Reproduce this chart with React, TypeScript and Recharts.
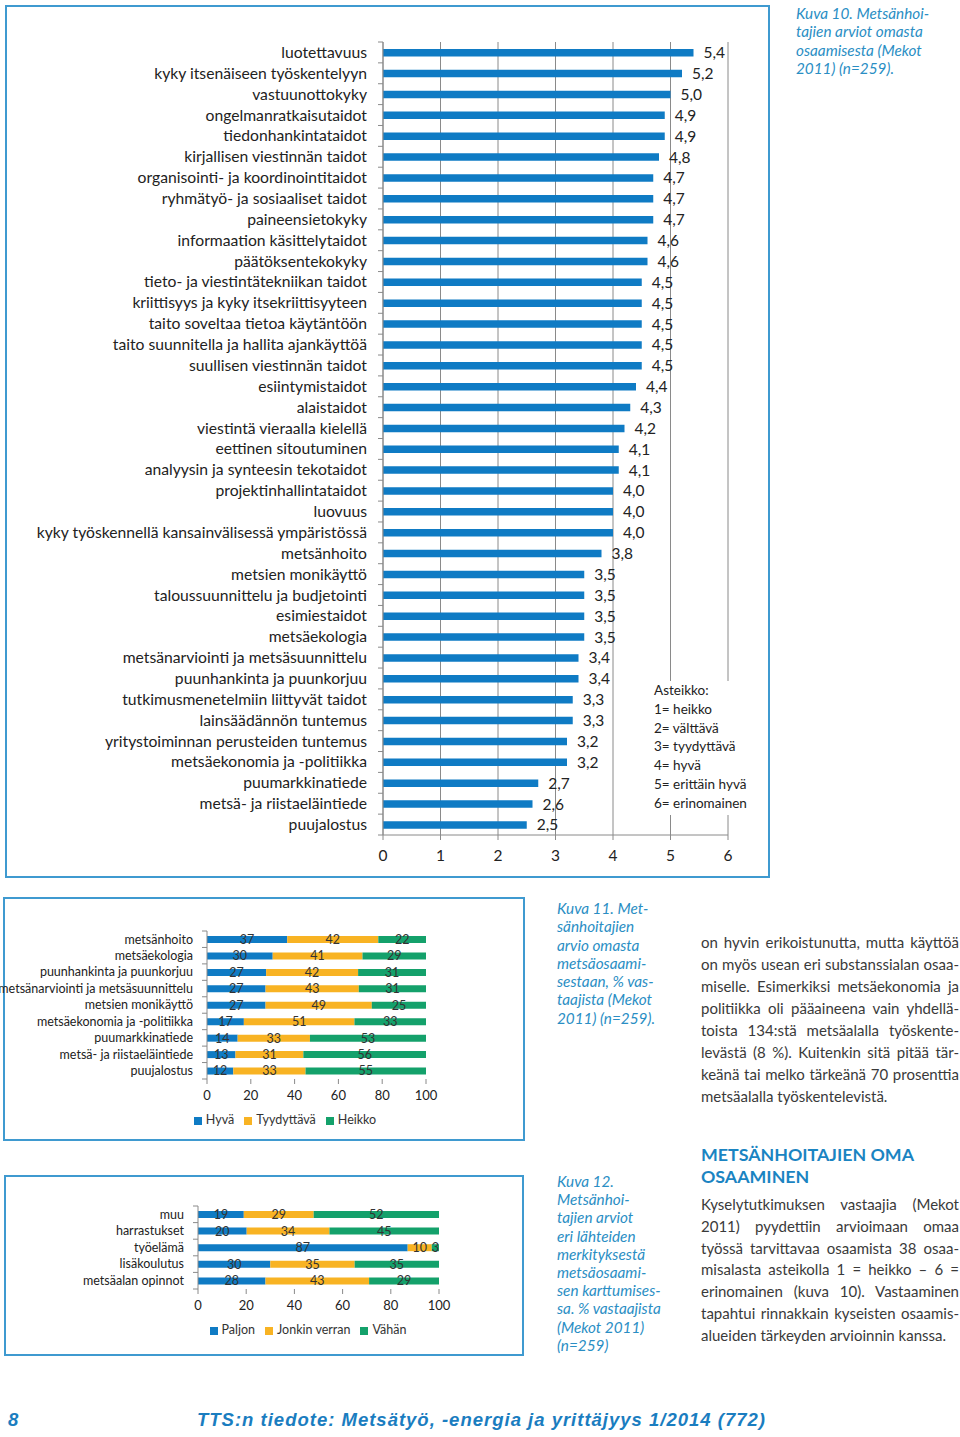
import React from 'react';
import {
  BarChart,
  Bar,
  XAxis,
  YAxis,
  CartesianGrid,
  LabelList,
  Legend,
} from 'recharts';

// Kuva 10 – osaamisalueet ja keskiarvot (asteikko 1–6)
const skills = [
  'luotettavuus',
  'kyky itsenäiseen työskentelyyn',
  'vastuunottokyky',
  'ongelmanratkaisutaidot',
  'tiedonhankintataidot',
  'kirjallisen viestinnän taidot',
  'organisointi- ja koordinointitaidot',
  'ryhmätyö- ja sosiaaliset taidot',
  'paineensietokyky',
  'informaation käsittelytaidot',
  'päätöksentekokyky',
  'tieto- ja viestintätekniikan taidot',
  'kriittisyys ja kyky itsekriittisyyteen',
  'taito soveltaa tietoa käytäntöön',
  'taito suunnitella ja hallita ajankäyttöä',
  'suullisen viestinnän taidot',
  'esiintymistaidot',
  'alaistaidot',
  'viestintä vieraalla kielellä',
  'eettinen sitoutuminen',
  'analyysin ja synteesin tekotaidot',
  'projektinhallintataidot',
  'luovuus',
  'kyky työskennellä kansainvälisessä ympäristössä',
  'metsänhoito',
  'metsien monikäyttö',
  'taloussuunnittelu ja budjetointi',
  'esimiestaidot',
  'metsäekologia',
  'metsänarviointi ja metsäsuunnittelu',
  'puunhankinta ja puunkorjuu',
  'tutkimusmenetelmiin liittyvät taidot',
  'lainsäädännön tuntemus',
  'yritystoiminnan perusteiden tuntemus',
  'metsäekonomia ja -politiikka',
  'puumarkkinatiede',
  'metsä- ja riistaeläintiede',
  'puujalostus',
];
const scores = [
  5.4, 5.2, 5.0, 4.9, 4.9, 4.8, 4.7, 4.7, 4.7, 4.6, 4.6, 4.5, 4.5, 4.5, 4.5,
  4.5, 4.4, 4.3, 4.2, 4.1, 4.1, 4.0, 4.0, 4.0, 3.8, 3.5, 3.5, 3.5, 3.5, 3.4,
  3.4, 3.3, 3.3, 3.2, 3.2, 2.7, 2.6, 2.5,
];
const scaleTicks = [0, 1, 2, 3, 4, 5, 6];
const scaleNotes = [
  'Asteikko:',
  '1= heikko',
  '2= välttävä',
  '3= tyydyttävä',
  '4= hyvä',
  '5= erittäin hyvä',
  '6= erinomainen',
];

// Kuva 11 – metsäosaaminen, % vastaajista
const forestTopics = [
  'metsänhoito',
  'metsäekologia',
  'puunhankinta ja puunkorjuu',
  'metsänarviointi ja metsäsuunnittelu',
  'metsien monikäyttö',
  'metsäekonomia ja -politiikka',
  'puumarkkinatiede',
  'metsä- ja riistaeläintiede',
  'puujalostus',
];
const hyva = [37, 30, 27, 27, 27, 17, 14, 13, 12];
const tyydyttava = [42, 41, 42, 43, 49, 51, 33, 31, 33];
const heikko = [22, 29, 31, 31, 25, 33, 53, 56, 55];
const forestSeries = ['Hyvä', 'Tyydyttävä', 'Heikko'];

// Kuva 12 – lähteiden merkitys, % vastaajista
const sources = ['muu', 'harrastukset', 'työelämä', 'lisäkoulutus', 'metsäalan opinnot'];
const paljon = [19, 20, 87, 30, 28];
const jonkin = [29, 34, 10, 35, 43];
const vahan = [52, 45, 3, 35, 29];
const sourceSeries = ['Paljon', 'Jonkin verran', 'Vähän'];
const pctTicks = [0, 0.2, 0.4, 0.6, 0.8, 1];

const skillData = skills.map((name, i) => ({ name, value: scores[i] }));
const forestData = forestTopics.map((name, i) => ({
  name,
  hyva: hyva[i],
  tyyd: tyydyttava[i],
  heikko: heikko[i],
}));
const sourceData = sources.map((name, i) => ({
  name,
  paljon: paljon[i],
  jonkin: jonkin[i],
  vahan: vahan[i],
}));

const FONT = 'Lato, "Open Sans", sans-serif';
const BLUE = '#0f7bc4';
const ORANGE = '#f8b323';
const GREEN = '#14a16b';
const AXIS = '#8a8a8a';
const CAPTION = '#2a8ec4';
const BODY = '#3a3a3a';

// category tick with Excel style marks between the rows
const BandTick = (props: any) => {
  const { x, y, payload, index, size, gap, half, count } = props;
  const ax = x + gap;
  return (
    <g>
      <line x1={ax - 5} x2={ax} y1={y - half} y2={y - half} stroke={AXIS} />
      {index === count - 1 && (
        <line x1={ax - 5} x2={ax} y1={y + half} y2={y + half} stroke={AXIS} />
      )}
      <text
        x={x}
        y={y}
        dy="0.35em"
        textAnchor="end"
        fontSize={size}
        fontFamily={FONT}
        fill="#222"
      >
        {payload.value}
      </text>
    </g>
  );
};

const legendText = (v: string) => <span style={{ color: '#333' }}>{v}</span>;

const boxStyle = (left: number, top: number, width: number, height: number) => ({
  position: 'absolute' as const,
  left,
  top,
  width,
  height,
  border: '2px solid #3f9ad0',
  boxSizing: 'border-box' as const,
});

const Lines = ({ lines, style, justify }: any) => (
  <div style={style}>
    {lines.map((l: string, i: number) => (
      <div
        key={i}
        style={
          justify && i < lines.length - 1
            ? { textAlign: 'justify', textAlignLast: 'justify' }
            : undefined
        }
      >
        {l}
      </div>
    ))}
  </div>
);

const footer = {
  position: 'absolute' as const,
  top: 1409,
  fontFamily: '"Liberation Sans", Arial, sans-serif',
  fontWeight: 700,
  fontStyle: 'italic' as const,
  fontSize: 18.5,
  letterSpacing: 1,
  lineHeight: '22px',
  color: '#1a7dc0',
  whiteSpace: 'nowrap' as const,
};

const App = () => {
  const mainHalf = (835 - 42) / skills.length / 2;
  const forestHalf = (1079 - 931) / forestTopics.length / 2;
  const sourceHalf = (1289 - 1206) / sources.length / 2;

  return (
    <div
      style={{
        position: 'absolute',
        left: 0,
        top: 0,
        width: 960,
        height: 1437,
        overflow: 'hidden',
        background: '#fff',
        fontFamily: FONT,
      }}
    >
      {/* Kuva 10 */}
      <div style={boxStyle(5, 5, 765, 873)} />
      <div style={{ position: 'absolute', left: 0, top: 0 }}>
        <BarChart
          width={770}
          height={880}
          data={skillData}
          layout="vertical"
          margin={{ top: 42, right: 42, left: 0, bottom: 15 }}
        >
          <CartesianGrid horizontal={false} stroke={AXIS} />
          <XAxis
            type="number"
            domain={[0, 6]}
            ticks={scaleTicks}
            height={30}
            stroke={AXIS}
            tickSize={5}
            tickMargin={10}
            tick={{ fontSize: 15.5, fill: '#222', fontFamily: FONT }}
          />
          <YAxis
            type="category"
            dataKey="name"
            width={383}
            stroke={AXIS}
            tickLine={false}
            tickSize={0}
            tickMargin={16}
            interval={0}
            tick={(p: any) => (
              <BandTick {...p} size={15.7} gap={16} half={mainHalf} count={skills.length} />
            )}
          />
          <Bar dataKey="value" fill={BLUE} barSize={7.5} isAnimationActive={false}>
            <LabelList
              dataKey="value"
              position="right"
              offset={10}
              fill="#222"
              fontSize={15.5}
              fontFamily={FONT}
              formatter={(v: any) => Number(v).toFixed(1).replace('.', ',')}
            />
          </Bar>
        </BarChart>
      </div>
      <Lines
        lines={scaleNotes}
        style={{
          position: 'absolute',
          left: 648,
          top: 681,
          width: 112,
          padding: '0 0 0 6px',
          background: '#fff',
          fontSize: 13.5,
          lineHeight: '18.8px',
          color: '#222',
          height: 134,
          boxSizing: 'border-box',
        }}
      />
      <Lines
        lines={[
          'Kuva 10. Metsänhoi-',
          'tajien arviot omasta',
          'osaamisesta (Mekot',
          '2011) (n=259).',
        ]}
        style={{
          position: 'absolute',
          left: 796,
          top: 4,
          fontSize: 15.3,
          lineHeight: '18.4px',
          fontStyle: 'italic',
          color: CAPTION,
        }}
      />

      {/* Kuva 11 */}
      <div style={boxStyle(3, 897, 522, 244)} />
      <div style={{ position: 'absolute', left: 0, top: 890 }}>
        <BarChart
          width={524}
          height={250}
          data={forestData}
          layout="vertical"
          stackOffset="expand"
          margin={{ top: 41, right: 98, left: 0, bottom: 0 }}
        >
          <XAxis
            type="number"
            domain={[0, 1]}
            ticks={pctTicks}
            height={61}
            axisLine={false}
            stroke={AXIS}
            tickSize={5}
            tickMargin={7}
            tickFormatter={(v: number) => String(Math.round(v * 100))}
            tick={{ fontSize: 13, fill: '#222', fontFamily: FONT }}
          />
          <YAxis
            type="category"
            dataKey="name"
            width={207}
            stroke={AXIS}
            tickLine={false}
            tickSize={0}
            tickMargin={14}
            interval={0}
            tick={(p: any) => (
              <BandTick {...p} size={12.5} gap={14} half={forestHalf} count={forestTopics.length} />
            )}
          />
          <Legend
            layout="horizontal"
            verticalAlign="middle"
            align="center"
            iconType="square"
            iconSize={8}
            formatter={legendText}
            itemSorter={(item: any) => forestSeries.indexOf(item.value)}
            wrapperStyle={{ top: 222, left: 190, width: 200, fontSize: 12.5, fontFamily: FONT }}
          />
          <Bar dataKey="hyva" name={forestSeries[0]} stackId="a" fill={BLUE} barSize={7} isAnimationActive={false}>
            <LabelList dataKey="hyva" position="center" fill="#333" fontSize={12.5} fontFamily={FONT} />
          </Bar>
          <Bar dataKey="tyyd" name={forestSeries[1]} stackId="a" fill={ORANGE} barSize={7} isAnimationActive={false}>
            <LabelList dataKey="tyyd" position="center" fill="#333" fontSize={12.5} fontFamily={FONT} />
          </Bar>
          <Bar dataKey="heikko" name={forestSeries[2]} stackId="a" fill={GREEN} barSize={7} isAnimationActive={false}>
            <LabelList dataKey="heikko" position="center" fill="#333" fontSize={12.5} fontFamily={FONT} />
          </Bar>
        </BarChart>
      </div>
      <Lines
        lines={[
          'Kuva 11. Met-',
          'sänhoitajien',
          'arvio omasta',
          'metsäosaami-',
          'sestaan, % vas-',
          'taajista (Mekot',
          '2011) (n=259).',
        ]}
        style={{
          position: 'absolute',
          left: 557,
          top: 899,
          fontSize: 15.3,
          lineHeight: '18.3px',
          fontStyle: 'italic',
          color: CAPTION,
        }}
      />
      <Lines
        justify
        lines={[
          'on hyvin erikoistunutta, mutta käyttöä',
          'on myös usean eri substanssialan osaa-',
          'miselle. Esimerkiksi metsäekonomia ja',
          'politiikka oli pääaineena vain yhdellä-',
          'toista 134:stä metsäalalla työskente-',
          'levästä (8 %). Kuitenkin sitä pitää tär-',
          'keänä tai melko tärkeänä 70 prosenttia',
          'metsäalalla työskentelevistä.',
        ]}
        style={{
          position: 'absolute',
          left: 701,
          top: 931,
          width: 258,
          fontSize: 15,
          lineHeight: '22px',
          color: BODY,
        }}
      />

      {/* Kuva 12 */}
      <div style={boxStyle(4, 1175, 520, 181)} />
      <div style={{ position: 'absolute', left: 0, top: 1170 }}>
        <BarChart
          width={524}
          height={185}
          data={sourceData}
          layout="vertical"
          stackOffset="expand"
          margin={{ top: 36, right: 85, left: 0, bottom: 0 }}
        >
          <XAxis
            type="number"
            domain={[0, 1]}
            ticks={pctTicks}
            height={66}
            axisLine={false}
            stroke={AXIS}
            tickSize={5}
            tickMargin={7}
            tickFormatter={(v: number) => String(Math.round(v * 100))}
            tick={{ fontSize: 13, fill: '#222', fontFamily: FONT }}
          />
          <YAxis
            type="category"
            dataKey="name"
            width={198}
            stroke={AXIS}
            tickLine={false}
            tickSize={0}
            tickMargin={14}
            interval={0}
            tick={(p: any) => (
              <BandTick {...p} size={12.5} gap={14} half={sourceHalf} count={sources.length} />
            )}
          />
          <Legend
            layout="horizontal"
            verticalAlign="middle"
            align="center"
            iconType="square"
            iconSize={8}
            formatter={legendText}
            itemSorter={(item: any) => sourceSeries.indexOf(item.value)}
            wrapperStyle={{ top: 152, left: 198, width: 230, fontSize: 12.5, fontFamily: FONT }}
          />
          <Bar dataKey="paljon" name={sourceSeries[0]} stackId="a" fill={BLUE} barSize={7} isAnimationActive={false}>
            <LabelList dataKey="paljon" position="center" fill="#333" fontSize={12.5} fontFamily={FONT} />
          </Bar>
          <Bar dataKey="jonkin" name={sourceSeries[1]} stackId="a" fill={ORANGE} barSize={7} isAnimationActive={false}>
            <LabelList dataKey="jonkin" position="center" fill="#333" fontSize={12.5} fontFamily={FONT} />
          </Bar>
          <Bar dataKey="vahan" name={sourceSeries[2]} stackId="a" fill={GREEN} barSize={7} isAnimationActive={false}>
            <LabelList dataKey="vahan" position="center" fill="#333" fontSize={12.5} fontFamily={FONT} />
          </Bar>
        </BarChart>
      </div>
      <Lines
        lines={[
          'Kuva 12.',
          'Metsänhoi-',
          'tajien arviot',
          'eri lähteiden',
          'merkityksestä',
          'metsäosaami-',
          'sen karttumises-',
          'sa. % vastaajista',
          '(Mekot 2011)',
          '(n=259)',
        ]}
        style={{
          position: 'absolute',
          left: 557,
          top: 1172,
          fontSize: 15.3,
          lineHeight: '18.2px',
          fontStyle: 'italic',
          color: CAPTION,
        }}
      />
      <Lines
        lines={['METSÄNHOITAJIEN OMA', 'OSAAMINEN']}
        style={{
          position: 'absolute',
          left: 701,
          top: 1143,
          fontSize: 17.8,
          lineHeight: '22px',
          fontWeight: 700,
          color: '#1a84c2',
        }}
      />
      <Lines
        justify
        lines={[
          'Kyselytutkimuksen vastaajia (Mekot',
          '2011) pyydettiin arvioimaan omaa',
          'työssä tarvittavaa osaamista 38 osaa-',
          'misalasta asteikolla 1 = heikko – 6 =',
          'erinomainen (kuva 10). Vastaaminen',
          'tapahtui rinnakkain kyseisten osaamis-',
          'alueiden tärkeyden arvioinnin kanssa.',
        ]}
        style={{
          position: 'absolute',
          left: 701,
          top: 1194,
          width: 258,
          fontSize: 15,
          lineHeight: '21.8px',
          color: BODY,
        }}
      />

      {/* alatunniste */}
      <div style={{ ...footer, left: 8 }}>8</div>
      <div style={{ ...footer, left: 197 }}>
        TTS:n tiedote: Metsätyö, -energia ja yrittäjyys 1/2014 (772)
      </div>
    </div>
  );
};

export default App;
